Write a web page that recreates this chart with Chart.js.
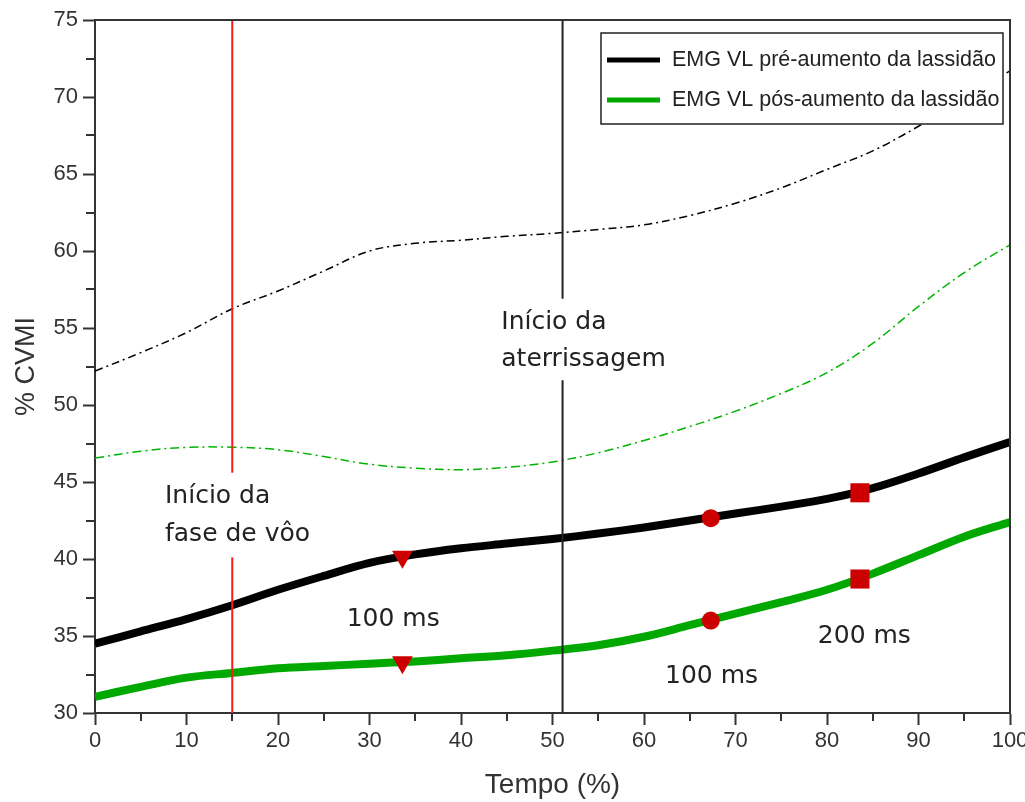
<!DOCTYPE html>
<html><head><meta charset="utf-8">
<script src="https://cdn.jsdelivr.net/npm/chart.js@4.4.1/dist/chart.umd.min.js"></script>
<style>html,body{margin:0;padding:0;background:#fff;} #wrap{width:1025px;height:802px;position:relative;}</style>
</head><body><div id="wrap"><canvas id="c" width="1025" height="802"></canvas></div>
<script>
// ---- data ----
const tempo = [0,5,10,15,20,25,30,35,40,45,50,55,60,65,70,75,80,85,90,95,100];
const preMean  = [34.5,35.3,36.1,37.0,38.0,38.9,39.75,40.3,40.7,41.0,41.3,41.65,42.05,42.5,42.95,43.4,43.9,44.6,45.55,46.6,47.6];
const postMean = [31.05,31.7,32.3,32.6,32.9,33.05,33.2,33.35,33.55,33.75,34.05,34.4,34.95,35.7,36.45,37.2,38.0,39.05,40.25,41.45,42.4];
const preUpper  = [52.2,53.4,54.7,56.25,57.4,58.7,60.0,60.5,60.7,60.95,61.15,61.4,61.7,62.3,63.1,64.1,65.3,66.5,68.1,69.9,71.7];
const postUpper = [46.55,47.0,47.25,47.26,47.1,46.65,46.15,45.9,45.8,45.95,46.3,46.9,47.7,48.6,49.6,50.75,52.1,54.0,56.4,58.6,60.4];

const markerTriX = 33.6, markerCircX = 67.3, markerSqX = 83.6;
const preMarkers  = [40.15, 42.65, 44.3];
const postMarkers = [33.3, 36.0, 38.7];

const flightX = 15;      const flightY = [30, 40.1, null, 45.6, 75];
const landingX = 51.1;   const landingY = [30, 51.6, null, 56.9, 75];

const xTicks = [0,10,20,30,40,50,60,70,80,90,100];
const yTicks = [30,35,40,45,50,55,60,65,70,75];
const legendLabels = ['EMG VL pré-aumento da lassidão','EMG VL pós-aumento da lassidão'];

// ---- helpers ----
const pts = (xs, ys) => xs.map((x,i)=>({x, y: ys[i]}));
const vline = (x, ys) => ys.map(y=>({x, y}));

const notes = [
  {t:'Início da', x:7.65, y:44.05},
  {t:'fase de vôo', x:7.65, y:41.6},
  {t:'Início da', x:44.4, y:55.35},
  {t:'aterrissagem', x:44.4, y:52.95},
  {t:'100 ms', x:27.5, y:36.05},
  {t:'100 ms', x:62.3, y:32.35},
  {t:'200 ms', x:79.0, y:34.95}
];

const frameColor = '#333';
const extras = {
  id:'extras',
  afterDatasetsDraw(chart){
    const ctx = chart.ctx, a = chart.chartArea, xs = chart.scales.x, ys = chart.scales.y;
    ctx.save();
    ctx.strokeStyle = frameColor; ctx.lineWidth = 2;
    ctx.beginPath();
    ctx.moveTo(a.left, a.top); ctx.lineTo(a.right, a.top); ctx.lineTo(a.right, a.bottom);
    ctx.stroke();
    ctx.beginPath();
    for (let v=5; v<100; v+=10){ const px = Math.round(xs.getPixelForValue(v)); ctx.moveTo(px, a.bottom); ctx.lineTo(px, a.bottom+8); }
    for (let v=32.5; v<75; v+=5){ const py = Math.round(ys.getPixelForValue(v)); ctx.moveTo(a.left, py); ctx.lineTo(a.left-9, py); }
    ctx.stroke();
    ctx.fillStyle = '#222'; ctx.font = '25px "DejaVu Sans"'; ctx.textBaseline = 'middle'; ctx.textAlign = 'left';
    notes.forEach(n => ctx.fillText(n.t, xs.getPixelForValue(n.x), ys.getPixelForValue(n.y)));
    const L = 601, T = 33, R = 1003, B = 124;
    ctx.fillStyle = '#fff'; ctx.fillRect(L, T, R-L, B-T);
    ctx.strokeStyle = '#222'; ctx.lineWidth = 1.5; ctx.strokeRect(L, T, R-L, B-T);
    const cols = ['#000', '#00a800'];
    const rows = [60, 100];
    ctx.font = '21.5px "Liberation Sans"'; ctx.fillStyle = '#222';
    rows.forEach((yy,i)=>{
      ctx.strokeStyle = cols[i]; ctx.lineWidth = 5;
      ctx.beginPath(); ctx.moveTo(607, yy); ctx.lineTo(660, yy); ctx.stroke();
      ctx.fillText(legendLabels[i], 672, yy);
    });
    ctx.restore();
  }
};

new Chart(document.getElementById('c'), {
  type: 'line',
  data: {
    datasets: [
      {data: [{x:markerTriX,y:preMarkers[0]},{x:markerTriX,y:postMarkers[0]}], showLine:false, pointStyle:'triangle', rotation:180, pointRadius:12, backgroundColor:'#cc0000', borderColor:'#cc0000', borderWidth:0, order:0},
      {data: [{x:markerCircX,y:preMarkers[1]},{x:markerCircX,y:postMarkers[1]}], showLine:false, pointStyle:'circle', pointRadius:9, backgroundColor:'#cc0000', borderColor:'#cc0000', borderWidth:0, order:0},
      {data: [{x:markerSqX,y:preMarkers[2]},{x:markerSqX,y:postMarkers[2]}], showLine:false, pointStyle:'rect', pointRadius:13.5, backgroundColor:'#cc0000', borderColor:'#cc0000', borderWidth:0, order:0},
      {data: vline(flightX, flightY), borderColor:'#ff1a1a', borderWidth:2, pointRadius:0, spanGaps:false, order:1},
      {data: vline(landingX, landingY), borderColor:'#222', borderWidth:2, pointRadius:0, spanGaps:false, order:1},
      {data: pts(tempo, preMean), borderColor:'#000', borderWidth:8, pointRadius:0, tension:0.35, order:2},
      {data: pts(tempo, postMean), borderColor:'#00a800', borderWidth:8, pointRadius:0, tension:0.35, order:2},
      {data: pts(tempo, preUpper), borderColor:'#000', borderWidth:1.5, borderDash:[8,4,2,4], pointRadius:0, tension:0.35, order:3},
      {data: pts(tempo, postUpper), borderColor:'#00b400', borderWidth:1.5, borderDash:[9,4,2,4], pointRadius:0, tension:0.35, order:3}
    ]
  },
  options: {
    responsive:false, animation:false,
    layout:{padding:{top:20, right:15, left:0, bottom:0}},
    plugins:{legend:{display:false}, tooltip:{enabled:false}},
    elements:{line:{borderCapStyle:'butt', borderJoinStyle:'round'}},
    scales:{
      x:{type:'linear', min:0, max:100,
        afterBuildTicks(s){ s.ticks = xTicks.map(v=>({value:v})); },
        afterFit(s){ s.height = 89; s.paddingLeft = 0; s.paddingRight = 0; },
        grid:{drawOnChartArea:false, drawTicks:true, tickLength:12, tickColor:frameColor, tickWidth:2},
        border:{display:true, color:frameColor, width:2},
        ticks:{color:'#333', padding:3, maxRotation:0, font:{family:'Liberation Sans', size:22}},
        title:{display:true, text:'Tempo (%)', color:'#333', padding:{top:0,bottom:0}, font:{family:'Liberation Sans', size:28}}
      },
      y:{type:'linear', min:30, max:75,
        afterBuildTicks(s){ s.ticks = yTicks.map(v=>({value:v})); },
        afterFit(s){ s.width = 95; s.paddingTop = 0; s.paddingBottom = 0; },
        grid:{drawOnChartArea:false, drawTicks:true, tickLength:12, tickColor:frameColor, tickWidth:2},
        border:{display:true, color:frameColor, width:2},
        ticks:{color:'#333', padding:5, font:{family:'Liberation Sans', size:22}},
        title:{display:true, text:'% CVMI', color:'#333', padding:{top:10,bottom:0}, font:{family:'Liberation Sans', size:27}}
      }
    }
  },
  plugins:[extras]
});
</script>
</body></html>
